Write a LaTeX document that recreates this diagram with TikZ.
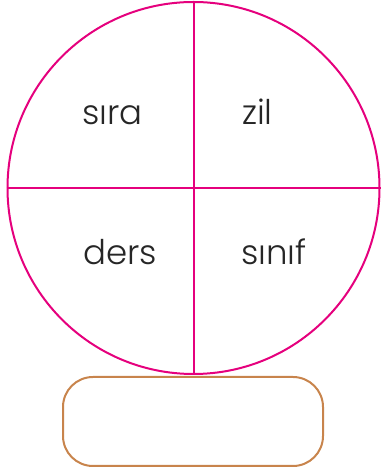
\documentclass[tikz,border=0pt]{standalone}
\usepackage{fontspec}
\setmainfont{Poppins Light}
\definecolor{mag}{HTML}{E5007D}
\definecolor{brn}{HTML}{C8844C}
\tikzset{
  word/.style={anchor=base west, inner sep=0pt, font=\fontsize{34}{40}\selectfont, text=black!85},
  ring/.style={draw=mag, line width=2pt},
}
\begin{document}
\begin{tikzpicture}[x=1pt,y=1pt]
\useasboundingbox (0,0) rectangle (380,473);
\node[circle, ring, minimum size=372pt, inner sep=0pt] (c) at (193.5,285) {};
\draw[ring] (c.north) -- (c.south);
\draw[ring] (c.west) -- (c.east);
\node[word] (w1) at (82,348) {sıra};
\node[word] (w2) at (242,348) {zil};
\node[word] (w3) at (83,208) {ders};
\node[word] (w4) at (241,208) {sınıf};
\node[draw=brn, line width=2pt, rounded corners=30pt, minimum width=260pt, minimum height=89pt, inner sep=0pt] (box) at (193,51.5) {};
\end{tikzpicture}
\end{document}
